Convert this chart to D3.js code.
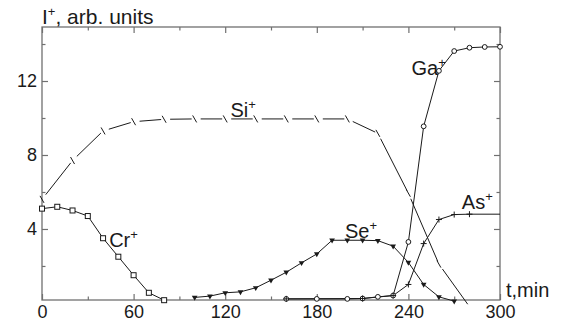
<!DOCTYPE html>
<html>
<head>
<meta charset="utf-8">
<script src="https://cdn.jsdelivr.net/npm/d3@7"></script>
<style>
    body { margin: 0; background: #fff; }
    text { font-family: "Liberation Sans", Arial, sans-serif; fill: #1a1a1a; }
</style>
</head>
<body>
<script>
// Data (time in min, intensity in arb. units)
var crT = [0, 10, 20, 30, 40, 50, 60, 70, 80];
var crV = [5.1, 5.2, 5.0, 4.7, 3.5, 2.5, 1.5, 0.55, 0.15];

var siT = [0, 20, 40, 60, 80, 100, 120, 140, 160, 180, 200, 220, 240, 260,
    280];
var siV = [5.6, 7.7, 9.3, 9.8, 9.93, 9.95, 9.95, 9.95, 9.95, 9.95, 9.95,
    9.17, 5.93, 2.1, -0.2];

var seT = [100, 110, 120, 130, 140, 150, 160, 170, 180, 190, 200, 210, 220,
    230, 240, 250, 260, 270];
var seV = [0.3, 0.37, 0.55, 0.6, 0.82, 1.23, 1.66, 2.17, 2.65, 3.39, 3.39,
    3.39, 3.37, 3.07, 2.19, 1.0, 0.33, 0.1];

var gaT = [160, 180, 200, 210, 220, 230, 240, 250, 260, 270, 280, 290, 300];
var gaV = [0.22, 0.22, 0.22, 0.24, 0.33, 0.4, 3.3, 9.55, 12.55, 13.62, 13.8,
    13.84, 13.85];

var asT = [160, 210, 230, 240, 250, 260, 270, 280, 300];
var asV = [0.22, 0.24, 0.4, 1.0, 3.21, 4.51, 4.78, 4.8, 4.8];

var xMajor = [0, 60, 120, 180, 240, 300];
var xMinor = [30, 90, 150, 210, 270];
var yMajor = [4, 8, 12];
var yMinor = [2, 6, 10, 14];

var W = 568, H = 321;
var pLeft = 42, pRight = 500, pTop = 27, pBottom = 300;
var axisColor = "#707070", lineColor = "#1a1a1a";

var svg = d3.select("body").append("svg")
    .attr("width", W)
    .attr("height", H);

var x = d3.scaleLinear().domain([0, 300]).range([pLeft, pRight]);
var y = d3.scaleLinear().domain([0.16, 14.92]).range([pBottom, pTop]);

function pts(ts, vs) {
    return ts.map(function(t, i) { return [t, vs[i]]; });
}

var line = d3.line()
    .x(function(d) { return x(d[0]); })
    .y(function(d) { return y(d[1]); });

//Axes: ticks point inward on all four sides
function styleAxis(g) {
    g.select(".domain").remove();
    g.selectAll(".tick line").attr("stroke", axisColor)
        .attr("stroke-width", 1.2);
    g.selectAll(".tick text").attr("fill", "#1a1a1a")
        .style("font-size", "18px")
        .style("font-family", "'Liberation Sans', Arial, sans-serif");
}

svg.append("g").attr("transform", "translate(0," + pBottom + ")")
    .call(d3.axisBottom(x).tickValues(xMajor).tickSize(-6).tickSizeOuter(0)
        .tickPadding(5).tickFormat(d3.format("d")))
    .call(styleAxis);
svg.append("g").attr("transform", "translate(0," + pBottom + ")")
    .call(d3.axisBottom(x).tickValues(xMinor).tickSize(-3.5)
        .tickSizeOuter(0).tickFormat(""))
    .call(styleAxis);
svg.append("g").attr("transform", "translate(0," + pTop + ")")
    .call(d3.axisTop(x).tickValues(xMajor).tickSize(-6).tickSizeOuter(0)
        .tickFormat(""))
    .call(styleAxis);
svg.append("g").attr("transform", "translate(0," + pTop + ")")
    .call(d3.axisTop(x).tickValues(xMinor).tickSize(-3.5).tickSizeOuter(0)
        .tickFormat(""))
    .call(styleAxis);

svg.append("g").attr("transform", "translate(" + pLeft + ",0)")
    .call(d3.axisLeft(y).tickValues(yMajor).tickSize(-6).tickSizeOuter(0)
        .tickPadding(5).tickFormat(d3.format("d")))
    .call(styleAxis);
svg.append("g").attr("transform", "translate(" + pLeft + ",0)")
    .call(d3.axisLeft(y).tickValues(yMinor).tickSize(-3.5).tickSizeOuter(0)
        .tickFormat(""))
    .call(styleAxis);
svg.append("g").attr("transform", "translate(" + pRight + ",0)")
    .call(d3.axisRight(y).tickValues(yMajor).tickSize(-6).tickSizeOuter(0)
        .tickFormat(""))
    .call(styleAxis);
svg.append("g").attr("transform", "translate(" + pRight + ",0)")
    .call(d3.axisRight(y).tickValues(yMinor).tickSize(-3.5).tickSizeOuter(0)
        .tickFormat(""))
    .call(styleAxis);

//Frame
svg.append("rect")
    .attr("x", pLeft).attr("y", pTop)
    .attr("width", pRight - pLeft).attr("height", pBottom - pTop)
    .attr("fill", "none")
    .attr("stroke", axisColor)
    .attr("stroke-width", 1.3);

//Si: broken line with slash markers
var si = pts(siT, siV);
var siG = svg.append("g").attr("stroke", lineColor).attr("stroke-width", 1);
for (var i = 0; i < si.length - 1; i++) {
    var x0 = x(si[i][0]), y0 = y(si[i][1]);
    var x1 = x(si[i + 1][0]), y1 = y(si[i + 1][1]);
    var len = Math.hypot(x1 - x0, y1 - y0);
    var ux = (x1 - x0) / len, uy = (y1 - y0) / len;
    siG.append("line")
        .attr("x1", x0 + ux * 6).attr("y1", y0 + uy * 6)
        .attr("x2", x1 - ux * 3).attr("y2", y1 - uy * 3);
}
siG.selectAll(".slash")
    .data(si.slice(0, si.length - 1))
    .enter().append("line")
    .attr("x1", function(d) { return x(d[0]) - 2; })
    .attr("y1", function(d) { return y(d[1]) - 3.5; })
    .attr("x2", function(d) { return x(d[0]) + 2; })
    .attr("y2", function(d) { return y(d[1]) + 3.5; });

//Other series lines
[pts(crT, crV), pts(seT, seV), pts(gaT, gaV), pts(asT, asV)]
    .forEach(function(d) {
        svg.append("path")
            .datum(d)
            .attr("d", line)
            .attr("fill", "none")
            .attr("stroke", lineColor)
            .attr("stroke-width", 1);
    });

//Markers
svg.selectAll(".cr")
    .data(pts(crT, crV))
    .enter().append("rect")
    .attr("x", function(d) { return x(d[0]) - 2.5; })
    .attr("y", function(d) { return y(d[1]) - 2.5; })
    .attr("width", 5).attr("height", 5)
    .attr("fill", "#fff")
    .attr("stroke", lineColor)
    .attr("stroke-width", 1);

var tri = d3.symbol().type(d3.symbolTriangle).size(14);
svg.selectAll(".se")
    .data(pts(seT, seV))
    .enter().append("path")
    .attr("d", tri)
    .attr("transform", function(d) {
        return "translate(" + x(d[0]) + "," + y(d[1]) + ") rotate(180)";
    })
    .attr("fill", lineColor);

svg.selectAll(".ga")
    .data(pts(gaT, gaV))
    .enter().append("circle")
    .attr("cx", function(d) { return x(d[0]); })
    .attr("cy", function(d) { return y(d[1]); })
    .attr("r", 2.4)
    .attr("fill", "#fff")
    .attr("stroke", lineColor)
    .attr("stroke-width", 1);

svg.selectAll(".as")
    .data(pts(asT, asV).slice(0, asT.length - 1))
    .enter().append("path")
    .attr("d", function(d) {
        var cx = x(d[0]), cy = y(d[1]);
        return "M" + (cx - 3) + "," + cy + "H" + (cx + 3) +
            "M" + cx + "," + (cy - 3) + "V" + (cy + 3);
    })
    .attr("stroke", lineColor)
    .attr("stroke-width", 1);

//Series labels with superscript +
function label(name, t, v) {
    var txt = svg.append("text")
        .attr("x", x(t))
        .attr("y", y(v))
        .style("font-size", "20px");
    txt.append("tspan").text(name);
    txt.append("tspan").attr("dy", -8).style("font-size", "13px").text("+");
}
label("Cr", 44, 3.04);
label("Si", 123.5, 10.05);
label("Se", 198.5, 3.5);
label("Ga", 242, 12.32);
label("As", 275, 5.1);

//Axis titles
var yt = svg.append("text")
    .attr("x", pLeft)
    .attr("y", 24)
    .style("font-size", "21px");
yt.append("tspan").text("I");
yt.append("tspan").attr("dy", -8).style("font-size", "13px").text("+");
yt.append("tspan").attr("dy", 8).text(", arb. units");

svg.append("text")
    .attr("x", pRight + 6)
    .attr("y", 297)
    .style("font-size", "20px")
    .text("t,min");
</script>
</body>
</html>
